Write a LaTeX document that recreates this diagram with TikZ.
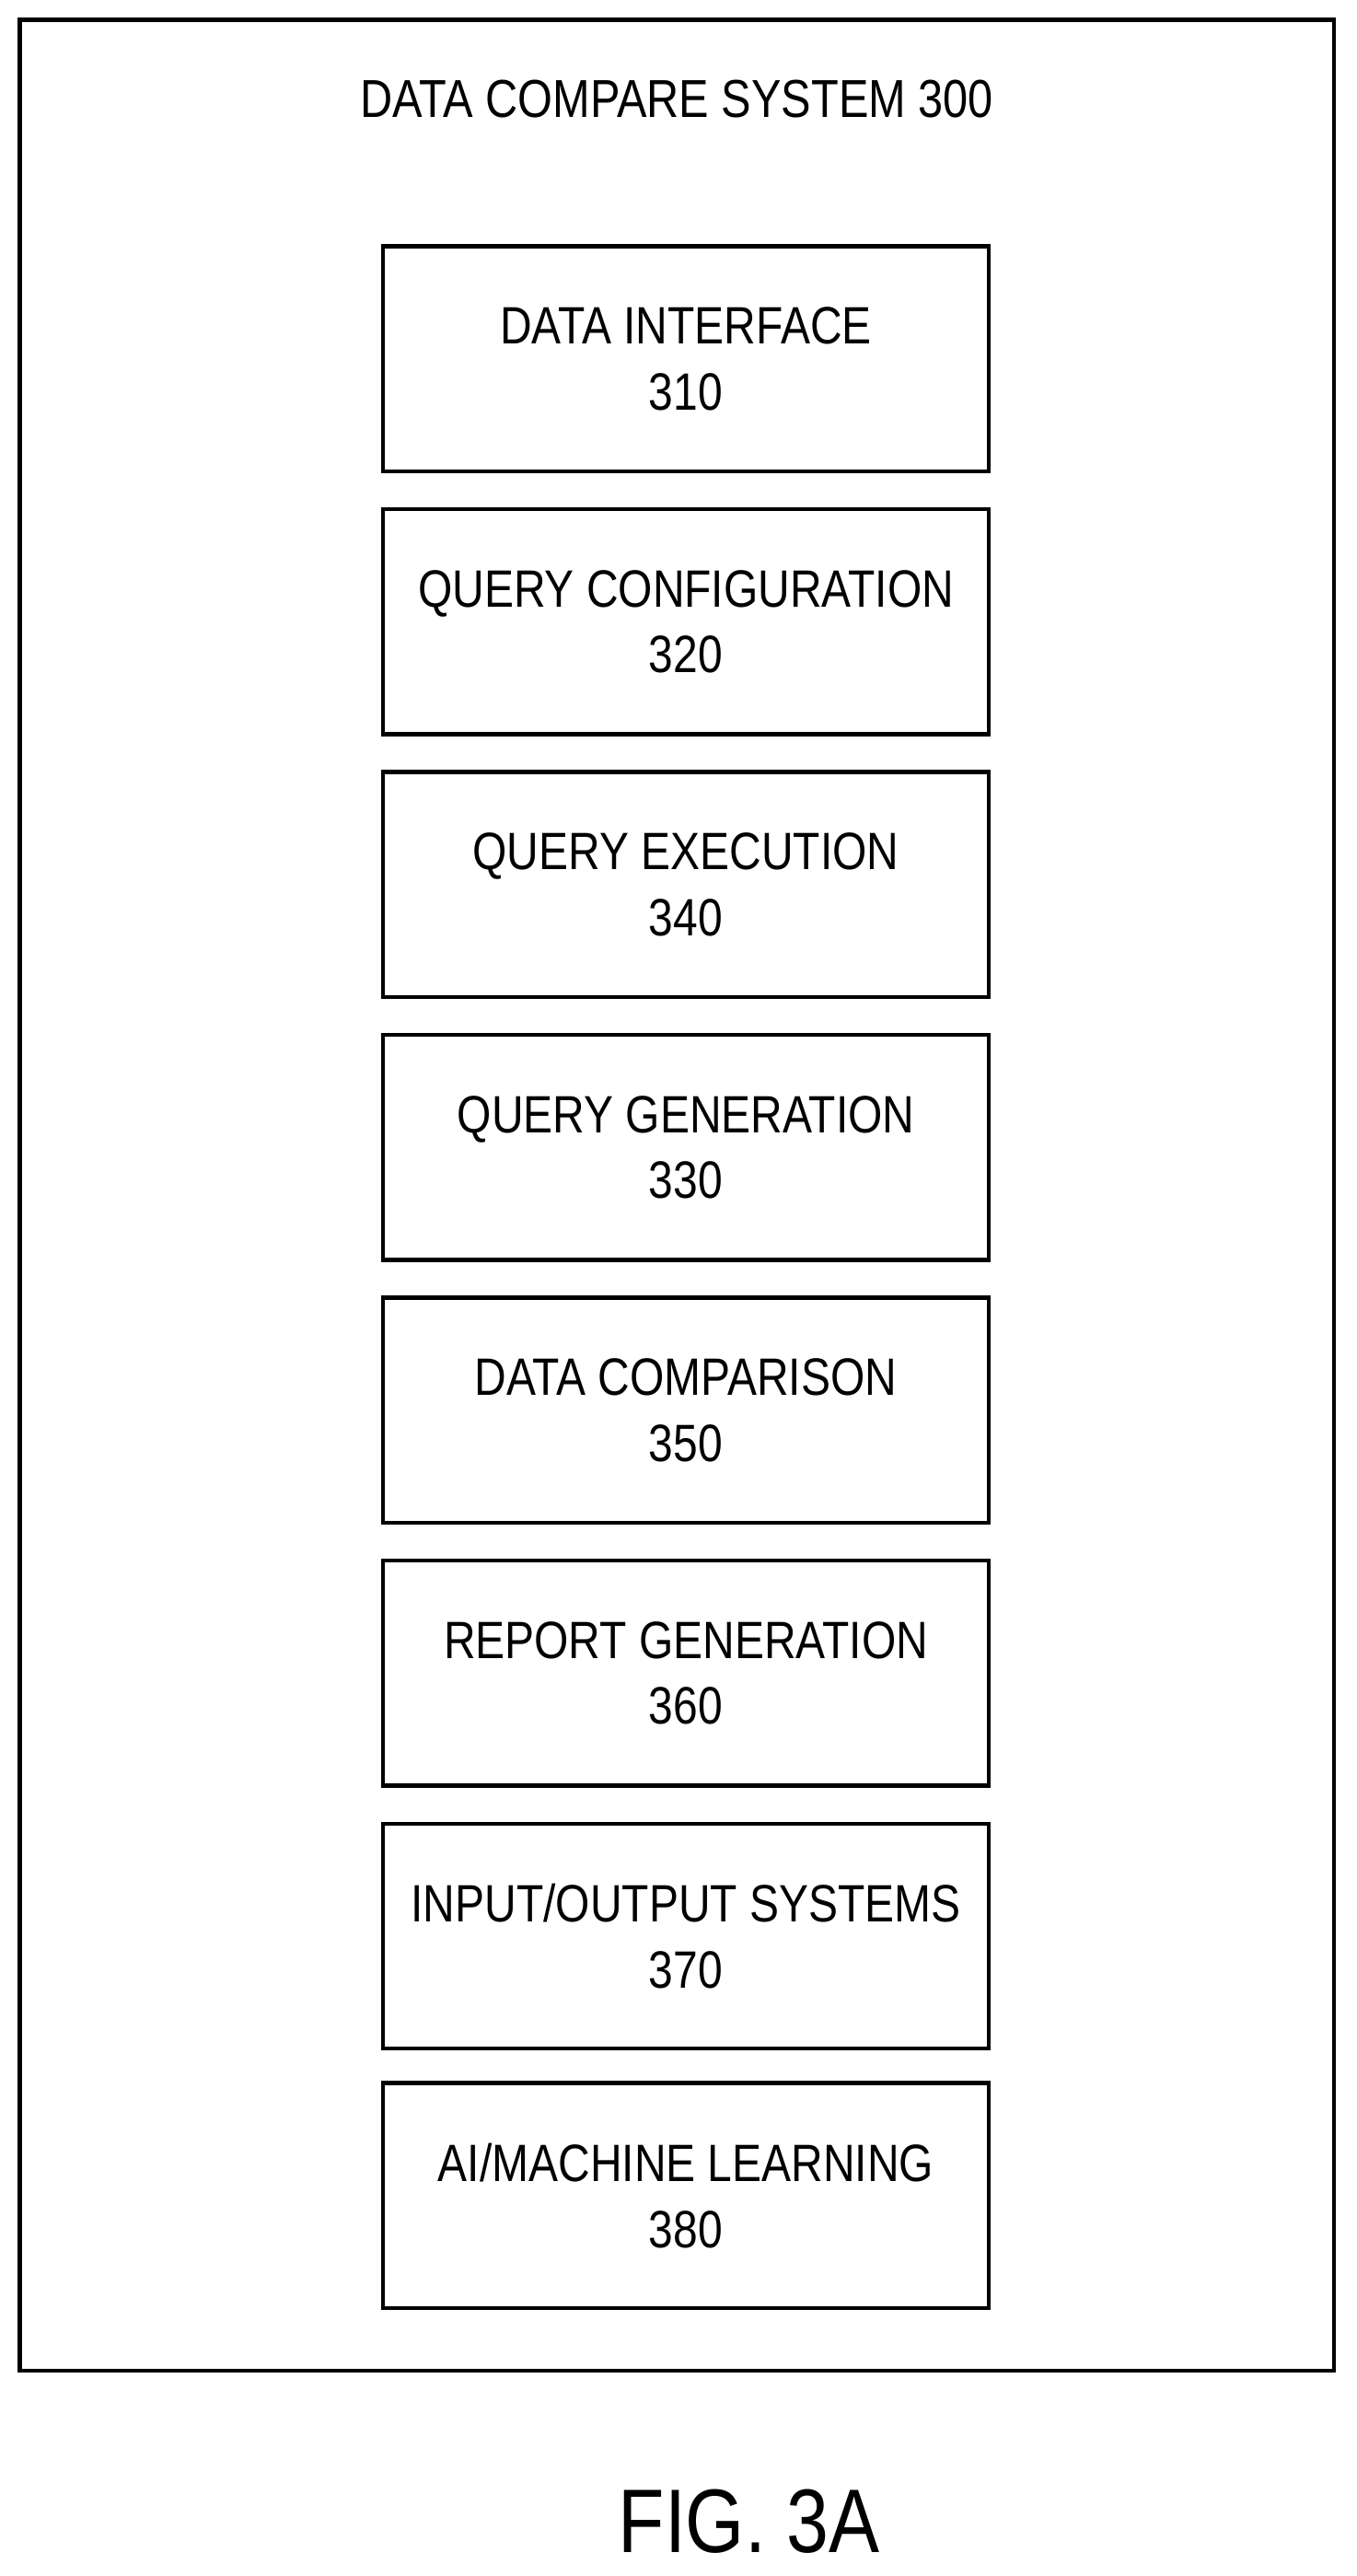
\documentclass[tikz,border=0pt]{standalone}
\usepackage{fontspec}
\setmainfont{Liberation Sans}[FakeStretch=0.84]
\usetikzlibrary{positioning}

\begin{document}
\begin{tikzpicture}[
    x=1pt, y=-1pt,
    block/.style={draw, line width=2.5pt, minimum width=369pt, minimum height=137pt, align=center, font=\fontsize{32}{40}\selectfont},
    frame/.style={draw, line width=2.5pt}
]
    \useasboundingbox (0,0) rectangle (826,1568);
    \draw[frame] (12,12) rectangle (812,1443);
    \node[font=\fontsize{32.5}{36}\selectfont] (title) at (412,60) {DATA COMPARE SYSTEM 300};

    \node[block] (iface) at (417.5,218.5) {DATA INTERFACE\\310};
    \node[block, below=20.5pt of iface] (qconf) {QUERY CONFIGURATION\\320};
    \node[block, below=20.5pt of qconf] (qexec) {QUERY EXECUTION\\340};
    \node[block, below=20.5pt of qexec] (qgen) {QUERY GENERATION\\330};
    \node[block, below=20.5pt of qgen] (dcomp) {DATA COMPARISON\\350};
    \node[block, below=20.5pt of dcomp] (rgen) {REPORT GENERATION\\360};
    \node[block, below=20.5pt of rgen] (io) {INPUT/OUTPUT SYSTEMS\\370};
    \node[block, below=18.5pt of io] (ai) {AI/MACHINE LEARNING\\380};

    \node[font=\fontsize{55}{60}\selectfont] (fig) at (456,1535) {FIG. 3A};
\end{tikzpicture}
\end{document}
